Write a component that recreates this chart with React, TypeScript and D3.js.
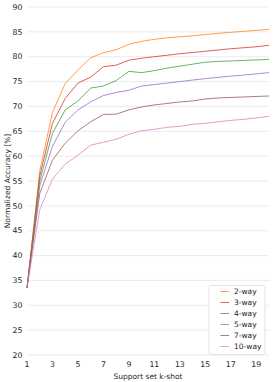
import React from "react";
import { scaleLinear, line, range } from "d3";

const shots = range(1, 21);
const yTicks = [20, 25, 30, 35, 40, 45, 50, 55, 60, 65, 70, 75, 80, 85, 90];
const xTicks = [1, 3, 5, 7, 9, 11, 13, 15, 17, 19];

const labels = ["2-way", "3-way", "4-way", "5-way", "7-way", "10-way"];
const colors = ["#ff7f0e", "#d62728", "#2ca02c", "#9467bd", "#8c564b", "#e377c2"];

const way2 = [33.5, 57.0, 68.8, 74.6, 77.3, 79.8, 80.8, 81.4, 82.5, 83.1, 83.5, 83.8, 84.0, 84.2, 84.45, 84.7, 84.9, 85.1, 85.3, 85.5];
const way3 = [33.5, 56.0, 66.6, 71.6, 74.7, 75.9, 78.0, 78.3, 79.3, 79.7, 80.0, 80.3, 80.6, 80.85, 81.1, 81.35, 81.6, 81.8, 82.0, 82.3];
const way4 = [33.5, 55.0, 64.6, 69.3, 71.1, 73.7, 74.1, 75.2, 77.05, 76.8, 77.2, 77.7, 78.1, 78.5, 78.9, 79.05, 79.15, 79.25, 79.35, 79.45];
const way5 = [33.5, 54.0, 62.0, 66.8, 69.3, 70.9, 72.2, 72.8, 73.25, 74.1, 74.4, 74.7, 75.0, 75.3, 75.6, 75.85, 76.1, 76.3, 76.55, 76.8];
const way7 = [33.5, 52.5, 59.2, 62.6, 65.1, 66.9, 68.4, 68.45, 69.3, 69.9, 70.3, 70.6, 70.9, 71.1, 71.5, 71.7, 71.8, 71.9, 72.0, 72.1];
const way10 = [33.5, 49.2, 55.4, 58.4, 60.2, 62.2, 62.8, 63.4, 64.4, 65.1, 65.4, 65.8, 66.0, 66.4, 66.6, 66.9, 67.2, 67.4, 67.7, 68.0];

const series = [way2, way3, way4, way5, way7, way10];

const App = () => {
    const width = 273;
    const height = 382;
    const margin = { top: 7, right: 4, bottom: 27, left: 27 };

    const xScale = scaleLinear()
        .domain([1, 20])
        .range([margin.left, width - margin.right]);

    const yScale = scaleLinear()
        .domain([20, 90])
        .range([height - margin.bottom, margin.top]);

    const path = line<number>()
        .x((d, i) => xScale(shots[i]))
        .y(d => yScale(d));

    const font = "'DejaVu Sans', sans-serif";
    const textColor = "#262626";

    // legend box
    const lx = 209;
    const ly = 285.5;
    const lw = 56;
    const rowH = 11;
    const lh = labels.length * rowH + 3;

    return (
        <svg width={width} height={height}
            style={{ position: "absolute", left: 0, top: 0, display: "block", background: "white" }}
            fontFamily={font}>
            {yTicks.map(t =>
                <g key={t} transform={`translate(0,${yScale(t)})`}>
                    <line x1={margin.left} x2={width - margin.right} stroke="#ebebeb" strokeWidth={1} />
                    <text x={22.5} dy="0.35em" textAnchor="end" fontSize={7.8} fill={textColor}>{t}</text>
                </g>
            )}
            {xTicks.map(t =>
                <text key={t} x={xScale(t)} y={367} textAnchor="middle" fontSize={7.8} fill={textColor}>{t}</text>
            )}
            <text x={(margin.left + width - margin.right) / 2} y={378.5} textAnchor="middle" fontSize={7.5} fill={textColor}>Support set k-shot</text>
            <text transform={`translate(10,${(yScale(20) + yScale(90)) / 2}) rotate(-90)`} textAnchor="middle" fontSize={7.5} fill={textColor}>Normalized Accuracy [%]</text>

            {series.map((s, i) =>
                <path key={labels[i]} d={path(s) || ""} fill="none" stroke={colors[i]} strokeOpacity={0.75} strokeWidth={1} />
            )}

            <rect x={lx} y={ly} width={lw} height={lh} rx={2} fill="white" fillOpacity={0.85} stroke="#dcdcdc" strokeWidth={0.8} />
            {labels.map((l, i) =>
                <g key={l} transform={`translate(${lx},${ly + 6 + i * rowH})`}>
                    <line x1={11.5} x2={20} stroke={colors[i]} strokeOpacity={0.75} strokeWidth={1} />
                    <text x={25} dy="0.35em" fontSize={7.5} fill={textColor}>{l}</text>
                </g>
            )}
        </svg>
    );
};

export default App;
